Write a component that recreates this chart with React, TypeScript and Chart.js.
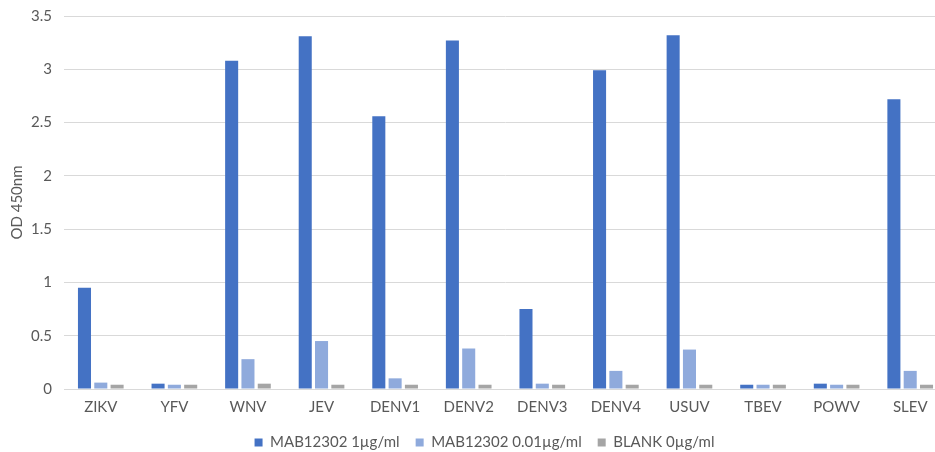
import React, { useEffect, useRef } from "react";
import { Chart, registerables } from "chart.js";

Chart.register(...registerables);

const categories = ["ZIKV", "YFV", "WNV", "JEV", "DENV1", "DENV2", "DENV3", "DENV4", "USUV", "TBEV", "POWV", "SLEV"];
const high = [0.95, 0.05, 3.08, 3.31, 2.56, 3.27, 0.75, 2.99, 3.32, 0.04, 0.05, 2.72];
const low = [0.06, 0.04, 0.28, 0.45, 0.10, 0.38, 0.05, 0.17, 0.37, 0.04, 0.04, 0.17];
const blank = [0.04, 0.04, 0.05, 0.04, 0.04, 0.04, 0.04, 0.04, 0.04, 0.04, 0.04, 0.04];
const seriesNames = ["MAB12302 1µg/ml", "MAB12302 0.01µg/ml", "BLANK 0µg/ml"];
const colors = ["#4472C4", "#8FAADC", "#A5A5A5"];

const FONT = "Lato, 'Open Sans', sans-serif";
const TEXT = "#595959";

export default function App() {
  const ref = useRef<HTMLCanvasElement>(null);
  useEffect(() => {
    document.body.style.margin = "0";
    const chart = new Chart(ref.current!, {
      type: "bar",
      data: {
        labels: categories,
        datasets: [high, low, blank].map((d, i) => ({
          label: seriesNames[i],
          data: d,
          backgroundColor: colors[i],
          borderWidth: 0,
          categoryPercentage: 0.665,
          barPercentage: 0.8,
        })),
      },
      options: {
        animation: false,
        responsive: false,
        layout: { padding: { top: 16, left: 22, right: 0, bottom: 0 } },
        plugins: {
          legend: {
            position: "bottom",
            labels: {
              boxWidth: 8,
              boxHeight: 8,
              padding: 16,
              color: TEXT,
              font: { family: FONT, size: 15 },
            },
          },
          tooltip: { enabled: false },
        },
        scales: {
          x: {
            grid: { display: false, drawTicks: false },
            border: { color: "#D9D9D9" },
            ticks: { color: TEXT, font: { family: FONT, size: 15 }, padding: 9 },
            afterFit: (s: any) => {
              s.height = 30;
              s.paddingLeft = 0;
              s.paddingRight = 0;
            },
          },
          y: {
            min: 0,
            max: 3.5,
            ticks: {
              stepSize: 0.5,
              color: TEXT,
              font: { family: FONT, size: 15 },
              padding: 12,
              callback: (v: any) => String(v),
            },
            grid: { color: "#D9D9D9", drawTicks: false },
            border: { display: false },
            title: {
              display: true,
              text: "OD 450nm",
              color: TEXT,
              font: { family: FONT, size: 15 },
              padding: { top: -14, bottom: 0 },
            },
            afterFit: (s: any) => {
              s.width = 42;
              s.paddingTop = 0;
              s.paddingBottom = 0;
            },
          },
        },
      },
    });
    return () => chart.destroy();
  }, []);
  return (
    <div style={{ width: 935, height: 452, overflow: "hidden", position: "relative", background: "#fff" }}>
      <canvas ref={ref} width={947} height={460} style={{ display: "block" }} />
    </div>
  );
}
